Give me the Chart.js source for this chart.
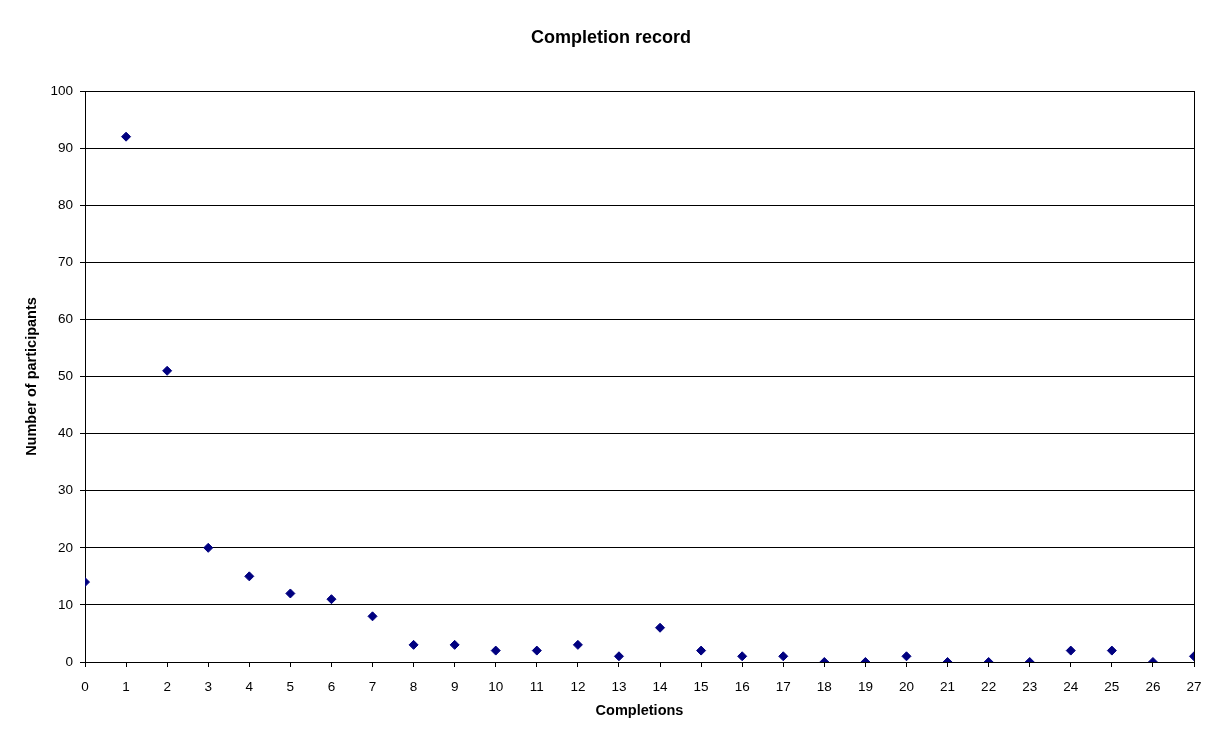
<!DOCTYPE html>
<html>
<head>
<meta charset="utf-8">
<title>Completion record</title>
<script src="https://cdn.jsdelivr.net/npm/chart.js@4.4.0/dist/chart.umd.min.js"></script>
<style>
  html, body { margin: 0; padding: 0; background: #fff; }
  #chart { display: block; }
</style>
</head>
<body>
<canvas id="chart" width="1222" height="744"></canvas>
<script>
// Data
const completions = [0, 1, 2, 3, 4, 5, 6, 7, 8, 9, 10, 11, 12, 13, 14, 15, 16, 17, 18, 19, 20, 21, 22, 23, 24, 25, 26, 27];
const participants = [14, 92, 51, 20, 15, 12, 11, 8, 3, 3, 2, 2, 3, 1, 6, 2, 1, 1, 0, 0, 1, 0, 0, 0, 2, 2, 0, 1];

const fontFamily = '"Liberation Sans", Arial, sans-serif';

// white background behind everything
const bgPlugin = {
  id: 'bg',
  beforeDraw(chart) {
    const ctx = chart.ctx;
    ctx.save();
    ctx.fillStyle = '#fff';
    ctx.fillRect(0, 0, chart.width, chart.height);
    ctx.restore();
  }
};

const points = completions.map((c, i) => ({ x: c, y: participants[i] }));

new Chart(document.getElementById('chart'), {
  type: 'scatter',
  data: {
    datasets: [{
      label: 'Participants',
      data: points,
      pointStyle: 'rectRot',
      pointRadius: 4.5,
      pointBorderWidth: 1,
      backgroundColor: '#000080',
      borderColor: '#000080'
    }]
  },
  options: {
    responsive: false,
    animation: false,
    layout: { padding: 0 },
    plugins: {
      legend: { display: false },
      tooltip: { enabled: false },
      title: {
        display: true,
        text: 'Completion record',
        color: '#000',
        font: { family: fontFamily, size: 18, weight: 'bold' },
        padding: { top: 27, bottom: 42.4 }
      }
    },
    scales: {
      x: {
        type: 'linear',
        min: 0,
        max: 27,
        afterFit(scale) { scale.height = 82; },
        border: { display: true, color: '#000', width: 1 },
        grid: { drawOnChartArea: false, drawTicks: true, tickLength: 5, color: '#000' },
        ticks: {
          stepSize: 1,
          color: '#000',
          padding: 12,
          maxRotation: 0,
          autoSkip: false,
          font: { family: fontFamily, size: 13.5 }
        },
        title: {
          display: true,
          text: 'Completions',
          color: '#000',
          font: { family: fontFamily, size: 14.5, weight: 'bold' },
          padding: { top: 0, bottom: 24 }
        }
      },
      y: {
        min: 0,
        max: 100,
        afterFit(scale) { scale.width = 85; },
        border: { display: true, color: '#000', width: 1 },
        grid: { color: '#000', lineWidth: 1, tickLength: 5 },
        ticks: {
          stepSize: 10,
          color: '#000',
          padding: 7,
          font: { family: fontFamily, size: 13.5 }
        },
        title: {
          display: true,
          text: 'Number of participants',
          color: '#000',
          font: { family: fontFamily, size: 14.5, weight: 'bold' },
          padding: { top: 23, bottom: 0 }
        }
      },
      // right edge of the plot frame
      yRight: {
        position: 'right',
        min: 0,
        max: 100,
        afterFit(scale) { scale.width = 28; },
        border: { display: true, color: '#000', width: 1 },
        grid: { drawOnChartArea: false, drawTicks: false },
        ticks: { display: false }
      }
    }
  },
  plugins: [bgPlugin]
});
</script>
</body>
</html>
